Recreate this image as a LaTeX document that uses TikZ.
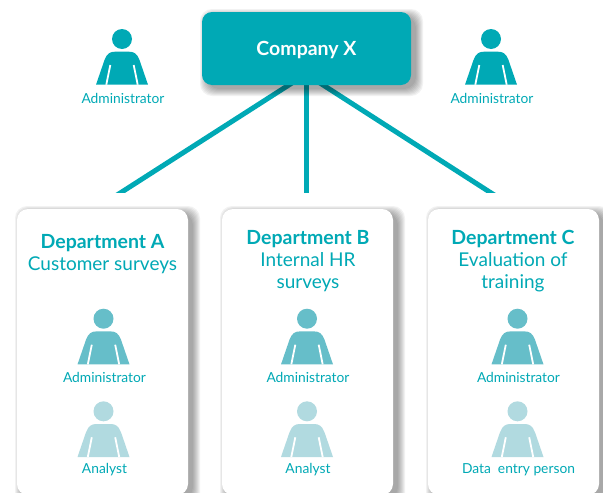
\documentclass[tikz,border=0pt]{standalone}
\usepackage{fontspec}
\setmainfont{Lato}
\usepackage{tikz}
\definecolor{tealdark}{HTML}{00A9B5}
\definecolor{tealmid}{HTML}{66BEC9}
\definecolor{teallight}{HTML}{B1DAE0}
\tikzset{
  boss/.style={fill=tealdark, rounded corners=10pt, minimum width=209pt, minimum height=73pt,
    inner sep=0pt, text=white, font=\fontsize{19.5}{22}\selectfont\bfseries},
  card/.style={fill=white, rounded corners=11pt, minimum width=171pt, minimum height=286pt, inner sep=0pt},
  heading/.style={text=tealdark, align=center, inner sep=0pt, font=\fontsize{19}{22}\selectfont},
  role/.style={text=tealdark, inner sep=0pt, font=\fontsize{13.8}{15}\selectfont},
  link/.style={draw=tealdark, line width=5pt, shorten >=-8pt}
}
\newcommand{\depthead}[1]{{\fontsize{19.5}{22}\selectfont\bfseries #1}}
% person figure: head centre x, head centre y, colour
\newcommand{\person}[3]{
  \begin{scope}[shift={(#1,#2)}]
    \fill[#3] (0,0) circle [radius=10];
    \fill[#3] (-26,45.7) -- (-17.5,21) .. controls (-15,14.5) and (-12,12.7) .. (-7,12.7)
      -- (7,12.7) .. controls (12,12.7) and (15,14.5) .. (17.5,21) -- (26,45.7) -- cycle;
    \draw[white, line width=1.8pt] (-11.7,26) -- (-15.7,45.7);
    \draw[white, line width=1.8pt] (11.7,26) -- (15.7,45.7);
  \end{scope}
}
% soft shadow: left, top, right, bottom
\newcommand{\softshadow}[4]{
  \foreach \s in {0,...,7}
    \fill[black, opacity=0.05, rounded corners=12pt]
      (#1+5-\s,#2+4-\s) rectangle (#3+5+\s,#4+4+\s);
}

\begin{document}
\begin{tikzpicture}[x=1pt, y=-1pt]
\useasboundingbox (0,0) rectangle (603,493);

% connectors go under the shadow of the company box
\coordinate (endA) at (120.7,192.7);
\coordinate (endB) at (306,192.7);
\coordinate (endC) at (490.7,192.7);
\coordinate (hub) at (306,74);
\begin{scope}
  \clip (0,0) rectangle (603,192.7);
  \draw[link] (hub) -- (endA);
  \draw[link] (hub) -- (endB);
  \draw[link] (hub) -- (endC);
\end{scope}

% company box
\softshadow{202}{12}{411}{85}
\node[boss] (company) at (306.5,48.5) {\raisebox{-6.5pt}[0pt][0pt]{Company X}};

% top administrators
\foreach \x/\n in {122/left, 491/right}
  {
    \person{\x}{39}{tealdark}
    \node[role] (admin\n) at (\x+1,98) {Administrator};
  }

% department cards
\softshadow{17}{209}{188}{495}
\softshadow{222}{209}{393}{495}
\softshadow{428}{209}{599}{495}
\node[card] (cardA) at (102.5,352) {};
\node[card] (cardB) at (307.5,352) {};
\node[card] (cardC) at (513.5,352) {};

\node[heading] (deptA) at (102.5,254) {\depthead{Department A}\\Customer surveys};
\node[heading] (deptB) at (308,261) {\depthead{Department B}\\Internal HR\\surveys};
\node[heading] (deptC) at (513,261) {\depthead{Department C}\\Evaluation of\\training};

% people in the departments
\foreach \x/\n/\t in {103.5/A/Analyst, 307/B/Analyst, 517.5/C/{Data\ \ entry person}}
  {
    \person{\x}{318.7}{tealmid}
    \node[role] (admin\n) at (\x+1,377) {Administrator};
    \person{\x}{411.3}{teallight}
    \node[role] (staff\n) at (\x+1,470) {\t};
  }
\end{tikzpicture}
\end{document}
